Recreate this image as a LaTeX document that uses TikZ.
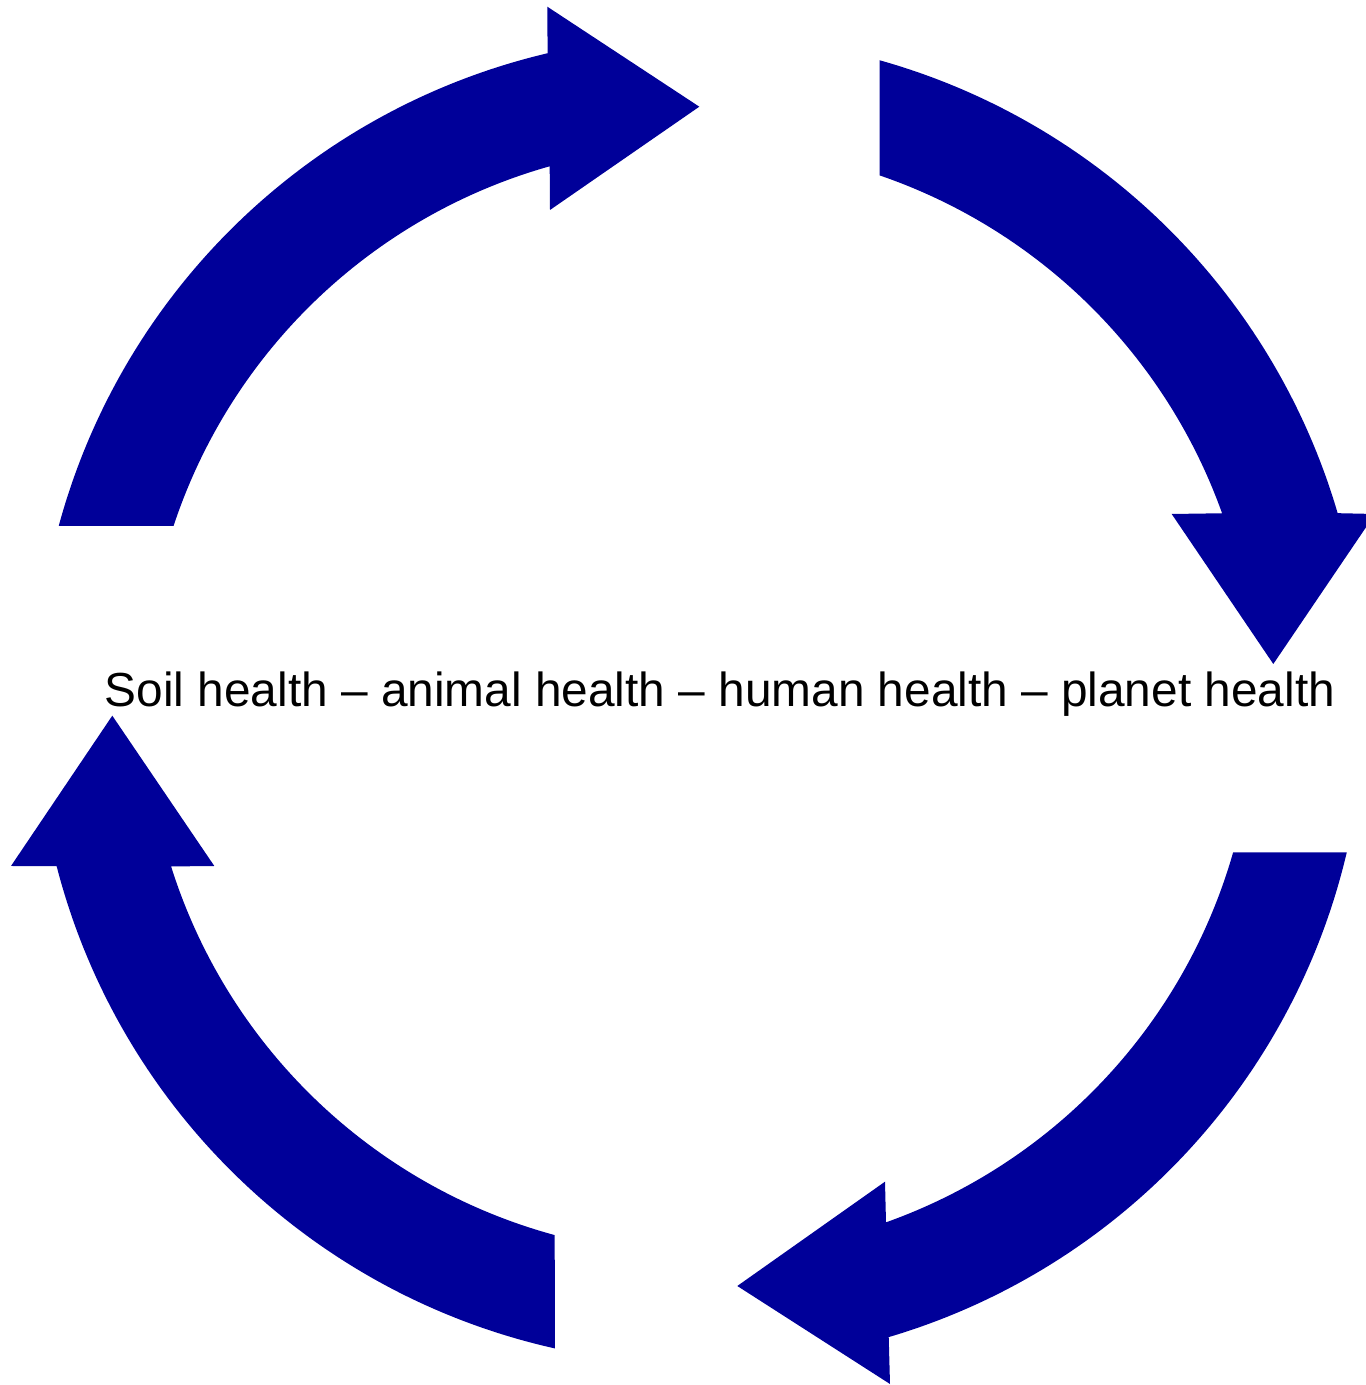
\documentclass[tikz,border=0pt]{standalone}
\usepackage{fontspec}
\setmainfont{Liberation Sans}
\usetikzlibrary{calc}
\definecolor{arrowblue}{RGB}{0,0,153}
\begin{document}
\begin{tikzpicture}[
  cyclearrow/.style={fill=arrowblue, draw=none},
  label/.style={font=\fontsize{13.6pt}{16pt}\selectfont, inner sep=0pt, anchor=base}
]
\useasboundingbox (0,0) rectangle (13.66,13.85);
\coordinate (C) at (7.00,6.85);
\def\Ro{6.645}
\def\Ri{5.545}
% top-left arrow
\fill[cyclearrow] (C) ++(164.8:\Ro) arc[start angle=164.8, end angle=103.26, radius=\Ro]
  -- (5.473,13.783) -- (6.993,12.783) -- (5.50,11.75)
  -- ($(C)+(105.73:\Ri)$) arc[start angle=105.73, end angle=161.7, radius=\Ri] -- cycle;
% top-right arrow
\fill[cyclearrow] (C) ++(74.32:\Ro) arc[start angle=74.32, end angle=16.33, radius=\Ro]
  -- (13.75,8.71) -- (12.733,7.21) -- (11.717,8.71)
  -- ($(C)+(19.68:\Ri)$) arc[start angle=19.68, end angle=71.1, radius=\Ri] -- cycle;
% bottom-right arrow
\fill[cyclearrow] (C) ++(-13.25:\Ro) arc[start angle=-13.25, end angle=-73.5, radius=\Ro]
  -- (8.90,0.01) -- (7.373,0.99) -- (8.85,2.033)
  -- ($(C)+(-70.4:\Ri)$) arc[start angle=-70.4, end angle=-15.95, radius=\Ri] -- cycle;
% bottom-left arrow
\fill[cyclearrow] (C) ++(257.38:\Ro) arc[start angle=257.38, end angle=194.48, radius=\Ro]
  -- (0.11,5.19) -- (1.123,6.693) -- (2.143,5.19)
  -- ($(C)+(197.47:\Ri)$) arc[start angle=197.47, end angle=254.81, radius=\Ri] -- cycle;
\node[label] (txt) at (7.20,6.78) {Soil health – animal health – human health – planet health};
\end{tikzpicture}
\end{document}
